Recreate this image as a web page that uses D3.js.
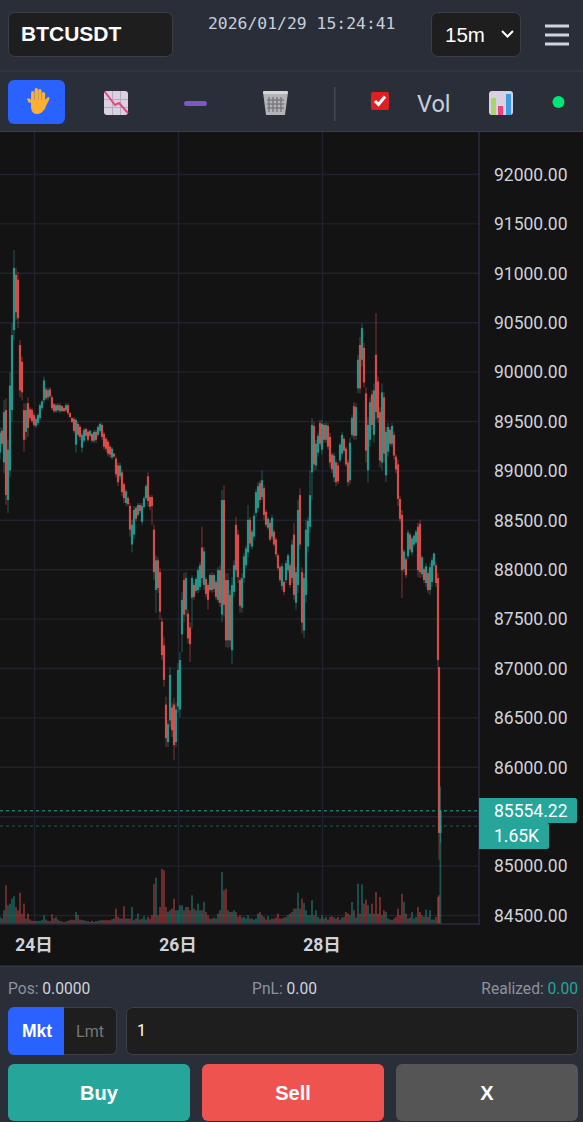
<!doctype html>
<html>
<head>
  <meta charset="utf-8">
  <title>BTCUSDT</title>
  <script src="https://d3js.org/d3.v7.min.js"></script>
  <style>
    html,body { margin:0; background:#131313; overflow:hidden; }
    svg { display:block; }
    text { font-family:Roboto,"Noto Sans CJK JP",sans-serif; }
    .arial { font-family:"Liberation Sans",Arial,sans-serif; }
    .axis text { fill:#cfd2da; font-size:17.5px; }
    .axis .domain { display:none; }
    .axis line { stroke:#20222d; stroke-width:1.4; }
  </style>
</head>
<body>
  <svg id="canvas" width="583" height="1122"></svg>

  <script>
    // 15m candles. one slot is about 40 minutes of chart
    const highs = [
      89440,89430,89710,89730,89310,89990,90490,91230,91050,91010,
      90320,90150,89680,89680,89740,89640,89630,89580,89540,89580,
      89680,89710,89950,89840,89840,89840,89760,89680,89680,89680,
      89680,89660,89640,89680,89680,89590,89540,89540,89530,89490,
      89460,89380,89430,89430,89410,89410,89380,89410,89410,89460,
      89490,89480,89390,89340,89310,89260,89240,89180,89140,89080,
      89080,89010,88880,88810,88740,88670,88500,88640,88640,88670,
      88670,88670,88740,88860,88980,88750,88750,88450,88140,88120,
      88010,87510,87310,86710,86470,87010,86650,86700,86650,87050,
      87160,87770,87960,87970,87590,87460,87940,87860,87920,88020,
      88070,88430,88220,87920,87860,87960,87970,87960,87890,88020,
      88040,88800,88850,87960,87960,87790,87920,88090,88530,88400,
      87920,87960,88160,88240,88650,88530,88400,88570,88810,88880,
      88900,89000,88850,88600,88530,88500,88550,88400,88320,88160,
      88040,88060,87890,88090,88160,88060,88300,88470,88020,88700,
      88820,88020,87960,88500,88530,89000,89530,89490,89310,89380,
      89510,89510,89480,89490,89480,89380,89180,89180,89110,89080,
      89280,89390,89340,89240,89110,89330,89560,89690,89680,90170,
      90350,90490,90290,89840,89540,89740,89810,89880,90590,89950,
      89640,89880,89790,89440,89480,89430,89480,89390,89160,89110,
      88740,88600,88200,88120,88400,88370,88330,88350,88400,88470,
      88500,88140,88020,88060,87990,88060,88120,88170,88070,87960,
      87010,85800
    ];
    const lows = [
      89110,89240,88970,88650,88570,88930,89490,90320,90520,90440,
      89740,89710,89190,89310,89340,89510,89480,89440,89430,89460,
      89510,89610,89680,89710,89710,89730,89610,89580,89580,89590,
      89580,89590,89590,89590,89560,89530,89480,89380,89180,89340,
      89310,89180,89280,89340,89290,89340,89280,89280,89280,89340,
      89380,89310,89210,89190,89140,89130,89110,89130,88930,88840,
      88910,88740,88670,88640,88640,88330,88170,88300,88480,88530,
      88570,88450,88610,88700,88640,88600,88450,87890,87560,87760,
      87490,87080,86810,86200,86200,86400,86300,86070,86200,86550,
      86500,87160,87460,87520,87250,87060,87400,87690,87760,87760,
      87790,87860,87790,87720,87590,87770,87760,87770,87690,87660,
      87620,87460,87520,87210,87200,87210,87040,87720,87920,87860,
      87560,87560,87860,88010,88120,88220,88200,88300,88530,88580,
      88670,88700,88500,88430,88400,88280,88300,88230,88120,87990,
      87870,87790,87740,87860,87960,87810,87860,87690,87590,87760,
      88200,87350,87300,87660,88170,88370,88700,89000,89000,89140,
      89240,89160,89280,89280,89210,89030,88970,88880,88840,88860,
      89080,89140,89180,89040,88840,88860,89330,89310,89310,89780,
      89780,90050,89840,89080,88880,89240,89410,89280,89510,89480,
      89030,89000,89080,88880,89140,89240,89240,89110,88970,88640,
      88480,87710,87970,87910,88100,88170,88140,88230,88250,87920,
      87910,87920,87860,87820,87760,87740,87820,88020,87820,87010,
      85060,85230
    ];
    const opens = [
      89180,89400,89080,89610,88700,89000,89610,90420,90980,90930,
      90270,90100,89610,89390,89680,89620,89610,89560,89450,89480,
      89530,89630,89710,89820,89740,89820,89740,89670,89600,89660,
      89600,89650,89630,89610,89660,89580,89530,89520,89260,89470,
      89440,89230,89300,89420,89390,89350,89370,89300,89390,89360,
      89400,89460,89370,89320,89290,89240,89130,89170,89120,89050,
      88940,88980,88860,88670,88720,88640,88250,88350,88620,88550,
      88650,88480,88630,88720,88940,88730,88730,88400,87790,88090,
      87970,87470,87230,86630,86250,86470,86600,86630,86250,86610,
      86580,87340,87890,87590,87550,87410,87710,87840,87780,87790,
      87820,88220,87840,87900,87840,87790,87940,87800,87870,87690,
      87990,87540,88700,87890,87280,87740,87180,87770,88450,88350,
      87890,87610,87910,88040,88170,88500,88230,88330,88570,88620,
      88870,88730,88820,88580,88420,88470,88330,88380,88300,88140,
      88020,87830,87870,87890,87990,88040,87910,88350,87660,87840,
      88750,87970,87380,87740,88230,88430,88980,89450,89050,89180,
      89480,89210,89460,89310,89450,89340,89160,88930,89080,89050,
      89100,89170,89320,89220,89080,88900,89360,89650,89350,89830,
      90270,90120,90240,89780,89000,89310,89770,89360,90170,89900,
      89590,89080,89740,88950,89190,89410,89270,89360,89140,89060,
      88710,88550,88000,88100,88130,88350,88170,88250,88270,88430,
      88460,87950,88000,87860,87960,87790,87870,88040,88040,87910,
      87010,85330
    ];
    const closes = [
      89380,89270,89590,88750,89210,89860,90370,91050,90600,90540,
      89810,89790,89310,89610,89430,89530,89500,89460,89520,89560,
      89660,89700,89910,89730,89810,89750,89630,89600,89660,89610,
      89660,89600,89600,89660,89580,89540,89490,89400,89510,89360,
      89340,89360,89410,89350,89310,89400,89300,89390,89310,89440,
      89470,89340,89240,89220,89170,89160,89220,89140,88960,88880,
      89050,88780,88720,88790,88660,88400,88450,88600,88510,88650,
      88590,88640,88720,88840,88690,88630,88640,87970,88090,87810,
      87570,87130,86880,86290,86430,86930,86370,86220,86580,86980,
      87080,87690,87540,87910,87300,87240,87910,87720,87900,87990,
      88040,87910,88180,87750,87690,87940,87790,87940,87720,87990,
      87660,88700,87640,87280,87890,87280,87840,88040,87990,87920,
      87630,87910,88130,88210,88500,88260,88380,88540,88780,88840,
      88700,88900,88550,88450,88510,88300,88520,88250,88150,88010,
      87890,88030,87770,88060,88140,87840,88250,87740,87970,88600,
      88250,87460,87910,88400,88490,88750,89460,89060,89270,89350,
      89270,89470,89310,89460,89240,89080,89010,89150,88880,88890,
      89260,89360,89200,89060,88880,89280,89530,89350,89640,90120,
      89830,90440,89890,89200,89460,89690,89460,89810,89590,89530,
      89100,89790,89170,89390,89440,89270,89450,89150,89010,88710,
      88510,87990,88180,87940,88370,88200,88310,88340,88380,87990,
      87970,88120,87890,88030,87790,88020,88090,88160,87860,87080,
      85330,85554.22
    ];
    const volumes = [
      112,84,224,645,309,337,421,460,280,224,
      522,168,337,84,168,67,45,45,45,45,
      45,56,140,67,45,39,157,84,112,67,
      45,34,22,34,45,56,67,56,196,140,
      67,56,56,45,39,28,45,28,39,45,
      56,56,56,56,56,56,73,84,252,112,
      84,84,292,84,84,84,280,56,84,168,
      67,84,123,67,112,84,140,673,774,140,
      280,926,898,280,196,224,252,421,224,224,
      309,309,224,280,280,224,477,252,224,337,
      224,224,365,196,140,84,84,101,84,168,
      224,870,561,589,224,196,196,224,196,112,
      140,101,112,84,140,84,84,67,84,168,
      196,140,112,67,123,67,84,84,101,168,
      84,84,101,112,140,168,196,252,252,522,
      252,421,348,224,140,140,393,140,224,112,
      84,140,84,112,67,112,123,101,84,112,
      67,101,112,196,168,140,365,224,101,673,
      168,662,337,404,309,168,337,168,533,168,
      449,140,224,196,84,67,56,84,112,252,
      140,505,365,168,84,101,196,84,112,280,
      196,140,112,236,112,224,67,67,112,449,
      477,1650
    ];
    // last three bars sit closer together than the rest
    const slots = d3.range(220).concat([219.5, 220.2]);

    const priceTicks = d3.range(84500, 92001, 500);
    const hiddenTick = 85500; // sits behind the last price tag
    const dayLabels  = ["24日", "26日", "28日"];
    const daySlots   = [17, 89, 161];
    const lastPrice  = 85554.22;
    const lastVolume = 1650;

    const UP = "#26a69a", DOWN = "#ef5350", PANEL = "#2a2e39", BOX = "#1e1e1e", EDGE = "#3c3f46";
    const chartW = 479, chartTop = 132, chartBottom = 924;

    const svg = d3.select("#canvas");
    const x   = d3.scaleLinear().domain([0, 220]).range([0, 440]);
    const y   = d3.scaleLinear().domain([84500, 92000]).range([915, 174]);
    const yV  = d3.scaleLinear().domain([0, lastVolume]).range([chartBottom - 0.5, 826]);

    svg.append("defs").append("clipPath").attr("id", "plot")
      .append("rect").attr("width", chartW).attr("y", chartTop).attr("height", chartBottom - chartTop);

    function addRect(px, py, w, h, fill, r, stroke) {
      return svg.append("rect").attr("x", px).attr("y", py).attr("width", w).attr("height", h)
        .attr("rx", r || 0).attr("fill", fill).attr("stroke", stroke || "none");
    }
    function addText(px, py, str, size, fill, anchor, cls, weight) {
      return svg.append("text").attr("x", px).attr("y", py).text(str)
        .attr("font-size", size).attr("fill", fill).attr("text-anchor", anchor || "start")
        .attr("class", cls || null).attr("font-weight", weight || null);
    }

    // ---- price axis + grid
    const yAxis = d3.axisRight(y).tickValues(priceTicks.filter(d => d !== hiddenTick))
      .tickFormat(d3.format(".2f")).tickSize(0).tickPadding(0);
    svg.append("g").attr("class", "axis").attr("transform", "translate(494,0)").call(yAxis)
      .selectAll("text").attr("dy", "0.36em");
    svg.append("g").attr("class", "axis").attr("clip-path", "url(#plot)")
      .call(d3.axisRight(y).tickValues(priceTicks).tickSize(chartW).tickFormat(""));

    const dayScale = d3.scaleOrdinal().domain(dayLabels).range(daySlots.map(d => x(d)));
    const xAxis = d3.axisBottom(dayScale).tickSize(0).tickPadding(0);
    const gx = svg.append("g").attr("class", "axis").attr("transform", "translate(-0.5,951)").call(xAxis);
    gx.selectAll("text").attr("dy", 0).attr("font-weight", 700);
    svg.append("g").attr("class", "axis").attr("transform", `translate(0,${chartBottom})`)
      .call(d3.axisTop(dayScale).tickSize(chartBottom - chartTop).tickFormat(""));

    // ---- volume + candles
    const plot = svg.append("g").attr("clip-path", "url(#plot)");
    const isUp = i => closes[i] >= opens[i];
    const colour = i => isUp(i) ? UP : DOWN;

    plot.selectAll(".vol").data(volumes).enter().append("rect")
      .attr("class", "vol")
      .attr("x", (d, i) => x(slots[i]) - 0.9)
      .attr("width", 1.8)
      .attr("y", d => yV(d))
      .attr("height", d => chartBottom - yV(d))
      .attr("fill", (d, i) => colour(i))
      .attr("opacity", 0.45);

    plot.selectAll(".wick").data(highs).enter().append("line")
      .attr("class", "wick")
      .attr("x1", (d, i) => x(slots[i])).attr("x2", (d, i) => x(slots[i]))
      .attr("y1", d => y(d)).attr("y2", (d, i) => y(lows[i]))
      .attr("stroke", (d, i) => colour(i))
      .attr("stroke-width", 1)
      .attr("opacity", 0.5);

    plot.selectAll(".body").data(opens).enter().append("rect")
      .attr("class", "body")
      .attr("x", (d, i) => x(slots[i]) - 1.1)
      .attr("width", 2.2)
      .attr("y", (d, i) => y(Math.max(d, closes[i])))
      .attr("height", (d, i) => Math.abs(y(d) - y(closes[i])))
      .attr("fill", (d, i) => colour(i))
      .attr("opacity", 0.85);

    // ---- last price / volume lines
    svg.append("line").attr("x1", 0).attr("x2", chartW).attr("y1", y(lastPrice)).attr("y2", y(lastPrice))
      .attr("stroke", UP).attr("stroke-dasharray", "3 3");
    svg.append("line").attr("x1", 0).attr("x2", chartW).attr("y1", yV(lastVolume)).attr("y2", yV(lastVolume))
      .attr("stroke", UP).attr("stroke-dasharray", "3 3").attr("opacity", 0.5);

    svg.append("line").attr("x1", chartW).attr("x2", chartW).attr("y1", chartTop).attr("y2", chartBottom + 1)
      .attr("stroke", "#2b2b43").attr("stroke-width", 1.5);
    svg.append("line").attr("x1", 0).attr("x2", chartW).attr("y1", chartBottom).attr("y2", chartBottom)
      .attr("stroke", "#2b2b43").attr("stroke-width", 1.5);

    addRect(479, 798, 98, 25, UP, 2);
    addRect(479, 823, 70, 26, UP, 2);
    addRect(479, 798, 6, 51, UP);
    addText(494, 817, d3.format(".2f")(lastPrice), 17.5, "#fff");
    addText(494, 842, d3.format(".3s")(lastVolume).replace("k", "K"), 17.5, "#fff");

    // ---- top bars
    addRect(0, 0, 583, 132, PANEL);
    svg.append("line").attr("x1", 0).attr("x2", 583).attr("y1", 71).attr("y2", 71).attr("stroke", "#3a3e4a");
    svg.append("line").attr("x1", 0).attr("x2", 583).attr("y1", 131.5).attr("y2", 131.5).attr("stroke", "#3a3e4a");

    addRect(8.5, 12.5, 164, 44, BOX, 6, EDGE);
    addText(21, 41, "BTCUSDT", 21, "#fff", "start", "arial", "bold");
    addText(208, 29, "2026/01/29 15:24:41", 16.4, "#c5cfdb").style("font-family", "'DejaVu Sans Mono',monospace");
    addRect(431.5, 12.5, 89, 44, BOX, 6, EDGE);
    addText(445, 42, "15m", 20.5, "#fff", "start", "arial");
    svg.append("path").attr("d", "M502 31l5.5 5.5l5.5-5.5").attr("fill", "none").attr("stroke", "#fff").attr("stroke-width", 2);
    [26, 35, 44].forEach(b => addRect(545, b - 1.5, 24, 3, "#d0d4e0"));

    // toolbar icons
    addRect(8, 80, 57, 44, "#2962ff", 6);
    const hand = svg.append("g").attr("fill", "#fbb034");
    hand.append("path").attr("d", "M29 103l-2-4q2-2 4 1l1 2z");
    [[31, 91], [34.6, 88], [38.2, 89], [41.8, 92]].forEach(f => hand.append("rect")
      .attr("x", f[0]).attr("y", f[1]).attr("width", 3.4).attr("height", 18).attr("rx", 1.7));
    hand.append("path").attr("d", "M31 100h14l3-3q2 0 1 3l-4 8q-3 6-8 6q-5 0-6-6z");

    addRect(104, 91, 24, 24, "#d9d0e0", 3);
    [112, 120].forEach(g => addRect(g, 91, 1, 24, "#b5acc0"));
    [99, 107].forEach(g => addRect(104, g, 24, 1, "#b5acc0"));
    svg.append("path").attr("d", "M105 92l10 13l4-2l9 10").attr("fill", "none").attr("stroke", "#e8457a").attr("stroke-width", 2);

    addRect(184, 101, 23, 5, "#7e57c2", 2.5);

    svg.append("path").attr("d", "M263 92h25l-3 23h-19z").attr("fill", "#b4b4b8");
    addRect(263, 91, 25, 3, "#d6d6d8", 1);
    [269, 273, 277, 281].forEach(g => addRect(g - 0.7, 97, 1.4, 15, "#77777c"));
    [100, 104, 108].forEach(g => addRect(267, g - 0.7, 17, 1.4, "#77777c"));

    addRect(334, 87, 1.5, 34, "#454954");

    addRect(371, 92, 18, 18, "#e02020", 2);
    svg.append("path").attr("d", "M375 101l3.5 3.5l6.5-8").attr("fill", "none").attr("stroke", "#fff").attr("stroke-width", 3);
    addText(417, 112, "Vol", 23.5, "#c5cfdb");

    addRect(489, 91, 24, 24, "#d9d0e0", 3);
    addRect(491, 98, 5, 17, "#a5d86a");
    addRect(498, 106, 5, 9, "#e8457a");
    addRect(506, 94, 5, 21, "#3a9be8");
    svg.append("circle").attr("cx", 558.5).attr("cy", 102).attr("r", 6).attr("fill", "#00e676");

    // ---- order panel
    addRect(0, 966, 583, 156, PANEL);
    svg.append("line").attr("x1", 0).attr("x2", 583).attr("y1", 966).attr("y2", 966).attr("stroke", "#3a3e4a");

    function stat(px, anchor, label, value, valueFill) {
      const t = addText(px, 994, null, 15.6, "#8b929e", anchor);
      t.append("tspan").text(label + " ");
      t.append("tspan").text(value).attr("fill", valueFill);
    }
    stat(8, "start", "Pos:", "0.0000", "#d1d4dc");
    stat(284.5, "middle", "PnL:", "0.00", "#d1d4dc");
    stat(578, "end", "Realized:", "0.00", UP);

    addRect(8.5, 1007.5, 108, 47, BOX, 6, EDGE);
    svg.append("path").attr("d", "M14 1007h50v48h-50a6 6 0 0 1-6-6v-36a6 6 0 0 1 6-6z").attr("fill", "#2962ff");
    addText(37, 1037, "Mkt", 17.5, "#fff", "middle", "arial", "bold");
    addText(90, 1037, "Lmt", 16, "#777", "middle");
    addRect(126.5, 1007.5, 451, 47, BOX, 6, EDGE);
    addText(137, 1036, "1", 16, "#fff");

    [[8, "Buy", UP], [202, "Sell", DOWN], [396, "X", "#555"]].forEach(b => {
      addRect(b[0], 1064, 182, 57, b[2], 6);
      addText(b[0] + 91, 1100, b[1], 20, "#fff", "middle", "arial", "bold");
    });
  </script>
</body>
</html>
